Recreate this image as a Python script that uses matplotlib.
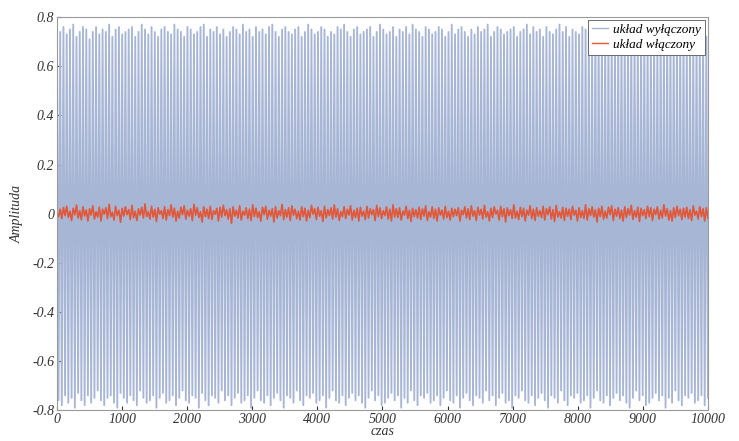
import numpy as np
import matplotlib
matplotlib.use("Agg")
import matplotlib.pyplot as plt

# --- data (blue = alternating peaks, hundredths) ---
peaks_hi = [75,74,76,73,75,77,72,74,76,75,71,74,76,73,75,74,77,72,75,76,
            73,74,75,76,72,74,77,75,73,76,74,72,75,76,74,73,77,75,74,72,
            76,75,73,74,76,77,72,75,74,76,73,75,72,74,76,75,73,77,74,75,
            72,76,74,75,73,76,77,74,72,75,76,74,73,75,76,72,74,77,75,73,
            74,76,75,72,74,73,76,75,77,74,72,75,76,73,74,75,76,72,74,77,
            75,73,74,76,72,75,74,76,73,77,75,74,72,76,75,73,74,76,75,72,
            74,77,73,75,76,74,72,75,73,76,74,75,77,72,74,76,75,73,74,75,
            76,72,74,75,77,73,76,74,75,72,76,74,73,75,77,74,76,72,75,74,
            73,76,75,74,72,77,75,73,76,74,75,72,74,76,73,75,77,74,72,75,
            76,74,73,75,72,76,74,77,75,73,74,76,75,72,74,73,76,75,74,72]
peaks_lo = [-76,-78,-74,-77,-75,-79,-73,-76,-78,-74,-77,-75,-72,-76,-78,-75,-74,-77,-79,-73,
            -75,-77,-74,-76,-78,-72,-75,-77,-76,-74,-79,-75,-73,-77,-76,-74,-78,-75,-72,-76,
            -77,-74,-75,-79,-73,-76,-78,-74,-75,-77,-72,-76,-74,-78,-75,-73,-77,-76,-74,-79,
            -75,-72,-76,-77,-74,-78,-75,-73,-76,-79,-74,-75,-77,-72,-76,-78,-74,-75,-73,-77,
            -76,-74,-79,-75,-72,-76,-77,-74,-78,-75,-73,-76,-74,-77,-79,-75,-72,-76,-74,-78,
            -77,-75,-73,-76,-74,-79,-75,-77,-72,-76,-78,-74,-75,-73,-77,-76,-74,-78,-75,-72,
            -76,-77,-74,-79,-75,-73,-76,-78,-74,-75,-77,-72,-76,-74,-78,-75,-73,-77,-76,-79,
            -74,-75,-72,-76,-77,-74,-78,-75,-73,-76,-79,-74,-75,-77,-72,-76,-78,-74,-75,-73,
            -77,-76,-74,-79,-75,-72,-76,-77,-74,-78,-75,-73,-76,-74,-77,-79,-75,-72,-76,-74,
            -78,-77,-75,-73,-76,-74,-79,-75,-77,-72,-76,-78,-74,-75,-73,-77,-76,-74,-78,-75]
# red series, thousandths
on_vals = [5,-12,18,-20,25,-8,30,-15,10,-28,22,-5,35,-18,12,-25,28,-10,15,-30,
           20,-6,32,-22,8,-14,26,-30,18,-2,24,-20,38,-12,6,-26,30,-8,14,-35,
           22,-10,28,-4,16,-24,34,-16,10,-28,20,-6,26,-18,40,-12,8,-22,30,-14,
           18,-32,24,-2,12,-20,28,-26,16,-8,36,-14,22,-30,10,-18,26,-4,32,-22,
           14,-10,20,-28,38,-6,24,-16,8,-34,28,-12,18,-20,30,-24,12,-2,22,-30,
           26,-14,34,-8,16,-22,20,-40,28,-10,14,-18,32,-26,10,-6,24,-20,18,-28,
           36,-12,22,-16,8,-30,26,-4,30,-22,14,-10,20,-34,28,-18,12,-8,38,-24,
           16,-14,24,-28,32,-6,18,-20,10,-26,28,-12,22,-30,14,-16,34,-2,20,-24,
           26,-10,12,-32,30,-18,16,-8,24,-22,36,-14,20,-28,8,-12,28,-20,18,-6,
           32,-26,14,-16,22,-30,26,-10,10,-24,30,-18,20,-4,16,-28,34,-12,24,-20,
           12,-8,28,-22,18,-30,36,-14,20,-16,24,-26,10,-6,30,-20,14,-32,22,-12,
           16,-18,26,-24,20,-10,32,-28,8,-14,28,-20,18,-30,24,-6,14,-22,30,-16,
           10,-26,22,-12,18,-8,24,-30,14,-4,28,-18,20,-24,32,-10,12,-28,26,-6,
           18,-22,34,-14,8,-30,22,-16,28,-2,14,-26,30,-12,20,-34,24,-8,16,-20,
           36,-18,10,-24,26,-12,22,-30,14,-6,32,-20,18,-28,24,-10,12,-16,30,-26,
           20,-4,28,-22,16,-32,34,-14,8,-18,26,-28,22,-10,18,-24,30,-6,14,-30,
           24,-16,12,-20,36,-26,20,-8,28,-14,16,-34,22,-12,30,-22,10,-18,26,-4,
           32,-28,18,-10,24,-20,14,-30,28,-16,20,-6,34,-24,12,-14,26,-32,22,-8,
           16,-20,30,-12,24,-28,18,-4,28,-22,14,-18,36,-10,20,-26,12,-30,24,-16,
           30,-8,18,-24,22,-14,26,-20,16,-28,32,-6,10,-22,28,-12,20,-30,24,-18]
n_samples = 10000
labels = ["układ wyłączony", "układ włączony"]
xticks = list(range(0, 10001, 1000))
yticks = [-0.8, -0.6, -0.4, -0.2, 0, 0.2, 0.4, 0.6, 0.8]
ytick_labels = ["-0.8", "-0.6", "-0.4", "-0.2", "0", "0.2", "0.4", "0.6", "0.8"]

off = np.empty(len(peaks_hi) + len(peaks_lo))
off[0::2] = np.array(peaks_hi) / 100.0
off[1::2] = np.array(peaks_lo) / 100.0
x_off = np.linspace(0, n_samples, len(off))
on = np.array(on_vals) / 1000.0
x_on = np.linspace(0, n_samples, len(on))

plt.rcParams['font.family'] = ['Liberation Serif', 'DejaVu Serif']
plt.rcParams['font.style'] = 'italic'

fig = plt.figure(figsize=(7.39, 4.41), dpi=100)
ax = fig.add_axes([0.077, 0.070, 0.881, 0.891])

ax.plot(x_off, off, color='#a8b6d6', lw=1.35, label=labels[0])
ax.plot(x_on, on, color='#e0583a', lw=1.2, label=labels[1])

ax.set_xlim(0, n_samples)
ax.set_ylim(-0.8, 0.8)
ax.set_xticks(xticks)
ax.set_xticklabels([str(t) for t in xticks])
ax.set_yticks(yticks)
ax.set_yticklabels(ytick_labels)
ax.tick_params(direction='in', length=3, labelsize=10, colors='#333333', pad=2)
for s in ax.spines.values():
    s.set_color('#9a9a9a')
    s.set_linewidth(0.8)

ax.set_xlabel('czas', fontsize=10, labelpad=-1, color='#333333')
ax.set_ylabel('Amplituda', fontsize=10, labelpad=6, color='#333333')

leg = ax.legend(loc='upper right', fontsize=9.5, frameon=True, fancybox=False,
                edgecolor='#555555', framealpha=1.0, borderpad=0.3,
                handlelength=1.2, handletextpad=0.4, labelspacing=0.2,
                borderaxespad=0.2)
leg.get_frame().set_linewidth(0.6)
for h in leg.get_lines():
    h.set_linewidth(1.0)

fig.savefig('out.png', dpi=100)
